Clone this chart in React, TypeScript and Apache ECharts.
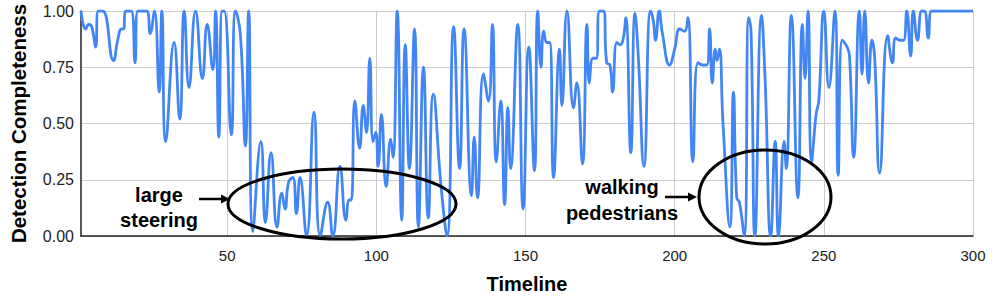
import React, { useEffect, useRef } from "react";
import * as echarts from "echarts";

const timeline: number[] = [
  1, 2.6, 3.6, 4.6, 5.9, 6.8, 8.3, 11.9, 13.3, 14.6, 15.2, 16.1, 17.8, 19.1, 20.0, 23.0, 24.2, 25.6, 27.2, 28.1, 29.4, 32.2, 34.1, 35.6,
  37.2, 39.4, 41.7, 43.3, 45.2, 46.1, 47.2, 48.3, 49.0, 51.4, 52.8, 54.4, 56.1, 57.2, 58.6, 61.3, 62.8, 64.7, 66.7, 68.3, 69.4, 70.6, 72.0, 73.2, 74.4, 76.6,
  79.1, 81.2, 83.7, 85.4, 87.8, 89.8, 90.9, 91.6, 92.8, 94.4, 95.6, 96.7, 97.8, 98.9, 99.8, 100.6, 101.7, 103.3, 104.8, 105.6, 107.0, 108.5,
  109.7, 111.1, 112.8, 114.1, 115.8, 117.4, 119.1, 121.7, 123.7, 125.9, 127.9, 129.4, 131.9, 132.8, 133.9, 135.9, 137.6, 138.9, 140.2, 141.7, 143.0, 144.1, 145.0,
  147.4, 149.2, 151.1, 153.0, 154.1, 155.2, 156.1, 157.2, 158.1, 159.4, 161.4, 162.2, 163.9, 166.1, 167.2, 169.1, 170.6, 171.4, 172.6, 173.7, 174.8, 176.1, 177.2, 178.3, 179.2, 180.6, 181.7,
  182.8, 183.6, 185.3, 186.7, 187.8, 189.7, 191.9, 192.8, 193.6, 194.8, 195.9, 198.3, 200.0, 201.7, 203.3, 204.4, 206.1, 207.8, 209.4, 210.8, 211.7, 212.6, 213.6, 214.2, 215.0, 216.2, 218.5,
  219.7, 220.8, 221.7, 223.3, 224.8, 225.6, 226.9, 229.1, 230.3, 232.2, 233.7, 234.8, 236.7, 237.4, 239.1, 241.3, 242.8, 243.7, 244.7, 245.9, 247.4, 248.3, 250.0, 251.7, 253.7, 254.8,
  256.2, 257.8, 258.6, 260.0, 261.9, 262.8, 263.7, 265.0, 266.1, 267.0, 268.7, 271.4, 273.0, 274.1, 275.6, 276.7, 277.8, 279.1, 280.0, 281.4, 282.8, 283.7, 285.0, 286.1, 288, 300,
];

const completeness: number[] = [
  1.0, 0.92, 0.94, 0.93, 0.84, 1.0, 1.0, 0.78, 0.87, 0.92, 0.92, 1.0, 1.0, 0.77, 1.0, 1.0, 0.9, 1.0, 0.64, 1.0, 0.42, 0.86, 0.52, 1.0,
  0.66, 1.0, 0.7, 0.94, 0.74, 1.0, 0.44, 1.0, 1.0, 0.45, 1.0, 0.9, 0.4, 1.0, 0.02, 0.42, 0.06, 0.37, 0.04, 0.19, 0.12, 0.24, 0.26, 0.1, 0.26, 0.0,
  0.55, 0.0, 0.15, 0.0, 0.31, 0.07, 0.16, 0.16, 0.6, 0.39, 0.58, 0.46, 0.79, 0.42, 0.46, 0.31, 0.54, 0.22, 0.43, 0.35, 1.0, 0.07,
  0.85, 0.3, 0.92, 0.04, 0.75, 0.08, 0.63, 0.22, 0.0, 0.93, 0.3, 0.92, 0.18, 0.44, 0.17, 0.72, 0.6, 0.94, 0.33, 0.6, 0.14, 0.57, 0.3,
  0.94, 0.12, 0.84, 0.29, 1.0, 0.75, 0.91, 0.86, 0.86, 0.26, 0.83, 0.58, 1.0, 0.57, 0.68, 0.32, 0.94, 0.68, 0.79, 0.79, 1.0, 1.0, 0.77, 0.76, 0.64, 0.86, 0.85,
  0.88, 0.97, 0.37, 0.99, 0.8, 0.31, 1.0, 0.96, 0.87, 1.0, 0.9, 0.76, 0.83, 0.92, 0.91, 0.97, 0.33, 0.77, 0.76, 0.76, 0.92, 0.68, 0.83, 0.78, 0.83, 0.5, 0.04,
  0.64, 0.17, 0.15, 0.0, 0.97, 0.91, 0.0, 0.98, 0.7, 0.0, 0.42, 0.0, 0.42, 0.3, 0.98, 0.17, 0.94, 0.7, 1.0, 0.33, 0.54, 0.6, 1.0, 0.66, 1.0, 0.27,
  0.87, 0.84, 0.8, 0.35, 1.0, 0.72, 1.0, 0.68, 0.87, 0.8, 0.28, 0.89, 0.77, 0.88, 0.87, 0.87, 1.0, 0.8, 1.0, 0.87, 1.0, 1.0, 0.88, 1.0, 1.0, 1.0,
];

const xTickValues: number[] = [50, 100, 150, 200, 250, 300];
const yMin = 0;
const yMax = 1;
const yStep = 0.25;
const xMin = 1;
const xMax = 300;

const FONT = "'Liberation Sans', Arial, Helvetica, sans-serif";

export default function App() {
  const ref = useRef<HTMLDivElement>(null);

  useEffect(() => {
    document.body.style.margin = "0";
    if (!ref.current) return;
    const chart = echarts.init(ref.current, undefined, { renderer: "svg" });

    const arrow = (x1: number, x2: number, y: number) => [
      {
        type: "line",
        shape: { x1, y1: y, x2: x2 - 6, y2: y },
        style: { stroke: "#000", lineWidth: 2.5 },
        z: 100,
      },
      {
        type: "polygon",
        shape: { points: [[x2, y], [x2 - 9, y - 4.5], [x2 - 9, y + 4.5]] },
        style: { fill: "#000" },
        z: 100,
      },
    ];

    chart.setOption({
      animation: false,
      grid: { left: 77, right: 23, top: 11, bottom: 66 },
      xAxis: {
        type: "value",
        min: xMin,
        max: xMax,
        name: "Timeline",
        nameLocation: "middle",
        nameGap: 38,
        nameTextStyle: { fontFamily: FONT, fontWeight: "bold", fontSize: 20, color: "#000" },
        axisLine: { show: true, lineStyle: { color: "#222", width: 1.5 } },
        axisTick: { show: false, customValues: xTickValues },
        axisLabel: { customValues: xTickValues, fontFamily: FONT, fontSize: 15, color: "#222", margin: 12 },
        splitLine: { show: true, lineStyle: { color: "#cccccc", width: 1 } },
      },
      yAxis: {
        type: "value",
        min: yMin,
        max: yMax,
        interval: yStep,
        name: "Detection Completeness",
        nameLocation: "middle",
        nameGap: 52,
        nameTextStyle: { fontFamily: FONT, fontWeight: "bold", fontSize: 20.5, color: "#000" },
        axisLine: { show: true, lineStyle: { color: "#222", width: 1.5 } },
        axisTick: { show: false },
        axisLabel: {
          fontFamily: FONT,
          fontSize: 16,
          color: "#222",
          margin: 7,
          formatter: (v: number) => v.toFixed(2),
        },
        splitLine: { show: true, lineStyle: { color: "#cccccc", width: 1 } },
      },
      series: [
        {
          type: "line",
          data: timeline.map((t, i) => [t, completeness[i]]),
          smooth: 0.5,
          showSymbol: false,
          symbol: "none",
          clip: true,
          lineStyle: { color: "#4285F4", width: 2.8 },
        },
      ],
      graphic: [
        {
          type: "ellipse",
          shape: { cx: 342, cy: 204, rx: 114, ry: 35 },
          style: { fill: "none", stroke: "#000", lineWidth: 3 },
          z: 100,
        },
        {
          type: "ellipse",
          shape: { cx: 765, cy: 197, rx: 66, ry: 47 },
          style: { fill: "none", stroke: "#000", lineWidth: 3 },
          z: 100,
        },
        ...arrow(199, 230, 199),
        ...arrow(665, 697, 197),
        {
          type: "text",
          x: 159,
          y: 207,
          style: {
            text: "large\nsteering",
            font: `bold 20px ${FONT}`,
            fill: "#000",
            align: "center",
            verticalAlign: "middle",
            lineHeight: 25,
          },
          z: 100,
        },
        {
          type: "text",
          x: 622,
          y: 200,
          style: {
            text: "walking\npedestrians",
            font: `bold 20px ${FONT}`,
            fill: "#000",
            align: "center",
            verticalAlign: "middle",
            lineHeight: 26,
          },
          z: 100,
        },
      ],
    });

    return () => chart.dispose();
  }, []);

  return <div ref={ref} style={{ width: 996, height: 302 }} />;
}
